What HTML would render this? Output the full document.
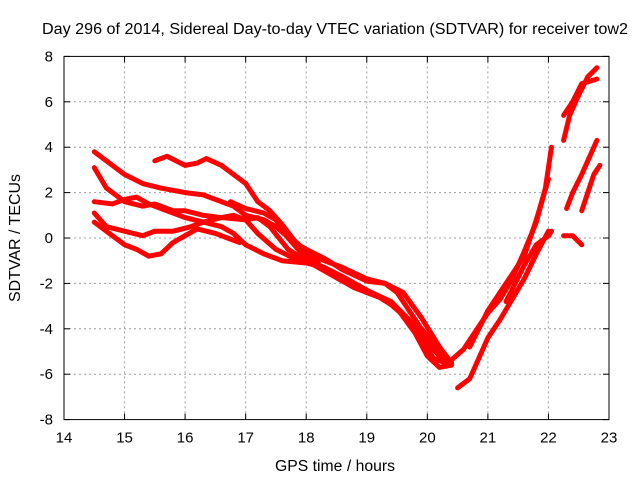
<!DOCTYPE html>
<html><head><meta charset="utf-8"><style>
body{margin:0;background:#fff}
svg{display:block;font-family:"Liberation Sans",sans-serif}
</style></head><body>
<svg id="c" width="640" height="480" viewBox="0 0 640 480">
<text x="335" y="34" font-size="15.5" text-anchor="middle" textLength="586" lengthAdjust="spacingAndGlyphs">Day 296 of 2014, Sidereal Day-to-day VTEC variation (SDTVAR) for receiver tow2</text>
<text x="335" y="471" font-size="15.5" text-anchor="middle" textLength="120" lengthAdjust="spacingAndGlyphs">GPS time / hours</text>
<text x="20" y="238" font-size="15.5" text-anchor="middle" textLength="128" lengthAdjust="spacingAndGlyphs" transform="rotate(-90 20 238)">SDTVAR / TECUs</text>
<g id="grid"></g><g id="series"></g><g id="axes"></g>
</svg>
<script>
const xTicks=[14,15,16,17,18,19,20,21,22,23];
const yTicks=[-8,-6,-4,-2,0,2,4,6,8];
const seriesA=[[14.5,3.8],[14.8,3.2],[15,2.8],[15.3,2.4],[15.6,2.2],[16,2.0],[16.3,1.9],[16.6,1.6],[16.8,1.4],[17,1.0],[17.3,0.8],[17.5,0.5],[17.8,-0.2],[18,-0.5],[18.3,-0.9],[18.6,-1.4],[19,-1.9],[19.3,-2.0],[19.6,-2.4],[19.9,-3.5],[20.2,-4.8],[20.4,-5.5]];
const seriesB=[[14.5,3.1],[14.7,2.2],[15,1.6],[15.3,1.4],[15.5,1.5],[15.8,1.2],[16,1.2],[16.3,1.0],[16.6,0.9],[17,0.8],[17.2,0.2],[17.5,-0.5],[17.8,-0.9],[18,-1.0],[18.3,-1.3],[18.6,-1.7],[19,-2.3],[19.4,-2.8],[19.7,-3.6],[20,-4.6],[20.2,-5.2],[20.4,-5.5]];
const seriesC=[[14.5,1.6],[14.8,1.5],[15,1.7],[15.2,1.8],[15.4,1.5],[15.7,1.2],[16,0.9],[16.3,0.7],[16.6,0.5],[16.8,0.2],[17,-0.3],[17.3,-0.7],[17.6,-1.0],[18,-1.1],[18.3,-1.3],[18.6,-1.9],[19,-2.4],[19.3,-2.7],[19.6,-3.4],[19.9,-4.4],[20.1,-5.3],[20.3,-5.5]];
const seriesD=[[14.5,1.1],[14.7,0.5],[15,0.3],[15.3,0.1],[15.5,0.3],[15.8,0.3],[16.1,0.5],[16.3,0.7],[16.6,0.9],[16.8,1.0],[17,0.8],[17.2,0.9],[17.4,0.5],[17.7,-0.5],[18,-1.0],[18.4,-1.6],[18.8,-2.2],[19.2,-2.6],[19.5,-3.1],[19.8,-4.2],[20,-5.2],[20.2,-5.7],[20.4,-5.6]];
const seriesE=[[14.5,0.7],[14.8,0.1],[15,-0.3],[15.2,-0.5],[15.4,-0.8],[15.6,-0.7],[15.8,-0.2],[16,0.1],[16.2,0.4],[16.5,0.2],[16.7,0.0],[16.9,-0.2]];
const seriesF=[[15.5,3.4],[15.7,3.6],[16,3.2],[16.2,3.3],[16.35,3.5],[16.6,3.2],[16.8,2.8],[17,2.4],[17.2,1.6],[17.4,1.2],[17.6,0.6],[17.8,-0.1],[18,-0.6],[18.3,-1.0],[18.6,-1.3],[19,-1.8],[19.3,-2.0],[19.5,-2.4],[19.7,-3.2],[19.9,-4.0],[20.1,-4.6],[20.3,-5.5]];
const seriesG=[[16.75,1.6],[17,1.3],[17.3,1.1],[17.5,0.8],[17.7,0.0],[17.9,-0.6],[18.2,-1.1]];
const seriesH=[[20.3,-5.6],[20.6,-4.9],[20.8,-4.1],[21,-3.3],[21.2,-2.7],[21.4,-1.8],[21.6,-0.6],[21.8,0.7],[21.95,2.2],[22.05,4.0]];
const seriesI=[[20.5,-6.6],[20.7,-6.2],[20.9,-5.0],[21,-4.4],[21.2,-3.6],[21.4,-2.7],[21.6,-1.8],[21.8,-0.7],[22,0.3]];
const seriesJ=[[20.7,-4.8],[21,-3.2],[21.3,-2.0],[21.6,-0.8],[21.8,0.8],[22,2.6]];
const seriesK=[[21.3,-2.8],[21.6,-1.2],[21.8,-0.3],[22,0.1],[22.05,0.3]];
const seriesL=[[22.25,4.3],[22.35,5.4],[22.5,6.3],[22.65,7.1],[22.8,7.5]];
const seriesM=[[22.25,5.4],[22.4,6.0],[22.55,6.8],[22.8,7.0]];
const seriesN=[[22.3,1.3],[22.4,2.0],[22.55,2.8],[22.8,4.3]];
const seriesO=[[22.55,1.2],[22.65,2.0],[22.75,2.8],[22.85,3.2]];
const seriesP=[[22.25,0.1],[22.4,0.1],[22.55,-0.3]];
const allSeries=[seriesA,seriesB,seriesC,seriesD,seriesE,seriesF,seriesG,seriesH,seriesI,seriesJ,seriesK,seriesL,seriesM,seriesN,seriesO,seriesP];
const L=64,R=609,T=56.4,B=419.6;
const X=v=>L+(v-14)/9*(R-L), Y=v=>B-(v+8)/16*(B-T);
const NS="http://www.w3.org/2000/svg";
function mk(tag,attrs,parent){const e=document.createElementNS(NS,tag);for(const k in attrs)e.setAttribute(k,attrs[k]);parent.appendChild(e);return e;}
const grid=document.getElementById('grid'),axes=document.getElementById('axes'),ser=document.getElementById('series');
xTicks.forEach(t=>{
 if(t>14&&t<23){const g=mk('line',{x1:X(t),x2:X(t),y1:T,y2:B,stroke:'#a0a0a0','stroke-dasharray':'2,3'},grid);
 }
 const a=mk('line',{x1:X(t),x2:X(t),y1:B,y2:B-6,stroke:'#000'},axes);
 const b=mk('line',{x1:X(t),x2:X(t),y1:T,y2:T+6,stroke:'#000'},axes);
 const tx=mk('text',{x:X(t),y:B+23,'font-size':15,'text-anchor':'middle'},axes);tx.textContent=t;
 
});
yTicks.forEach(t=>{
 if(t>-8&&t<8){const g=mk('line',{x1:L,x2:R,y1:Y(t),y2:Y(t),stroke:'#a0a0a0','stroke-dasharray':'2,3'},grid);
 }
 const a=mk('line',{x1:L,x2:L+6,y1:Y(t),y2:Y(t),stroke:'#000'},axes);
 const b=mk('line',{x1:R,x2:R-6,y1:Y(t),y2:Y(t),stroke:'#000'},axes);
 const tx=mk('text',{x:L-11,y:Y(t)+5,'font-size':15,'text-anchor':'end'},axes);tx.textContent=t;
 
});
const fr=mk('rect',{x:L,y:T,width:R-L,height:B-T,fill:'none',stroke:'#000'},axes);

allSeries.forEach(s=>{
 const p=mk('polyline',{points:s.map(d=>X(d[0])+','+Y(d[1])).join(' '),fill:'none',stroke:'#f00','stroke-width':5,'stroke-linejoin':'round','stroke-linecap':'round'},ser);
 
 
});
</script>
</body></html>
